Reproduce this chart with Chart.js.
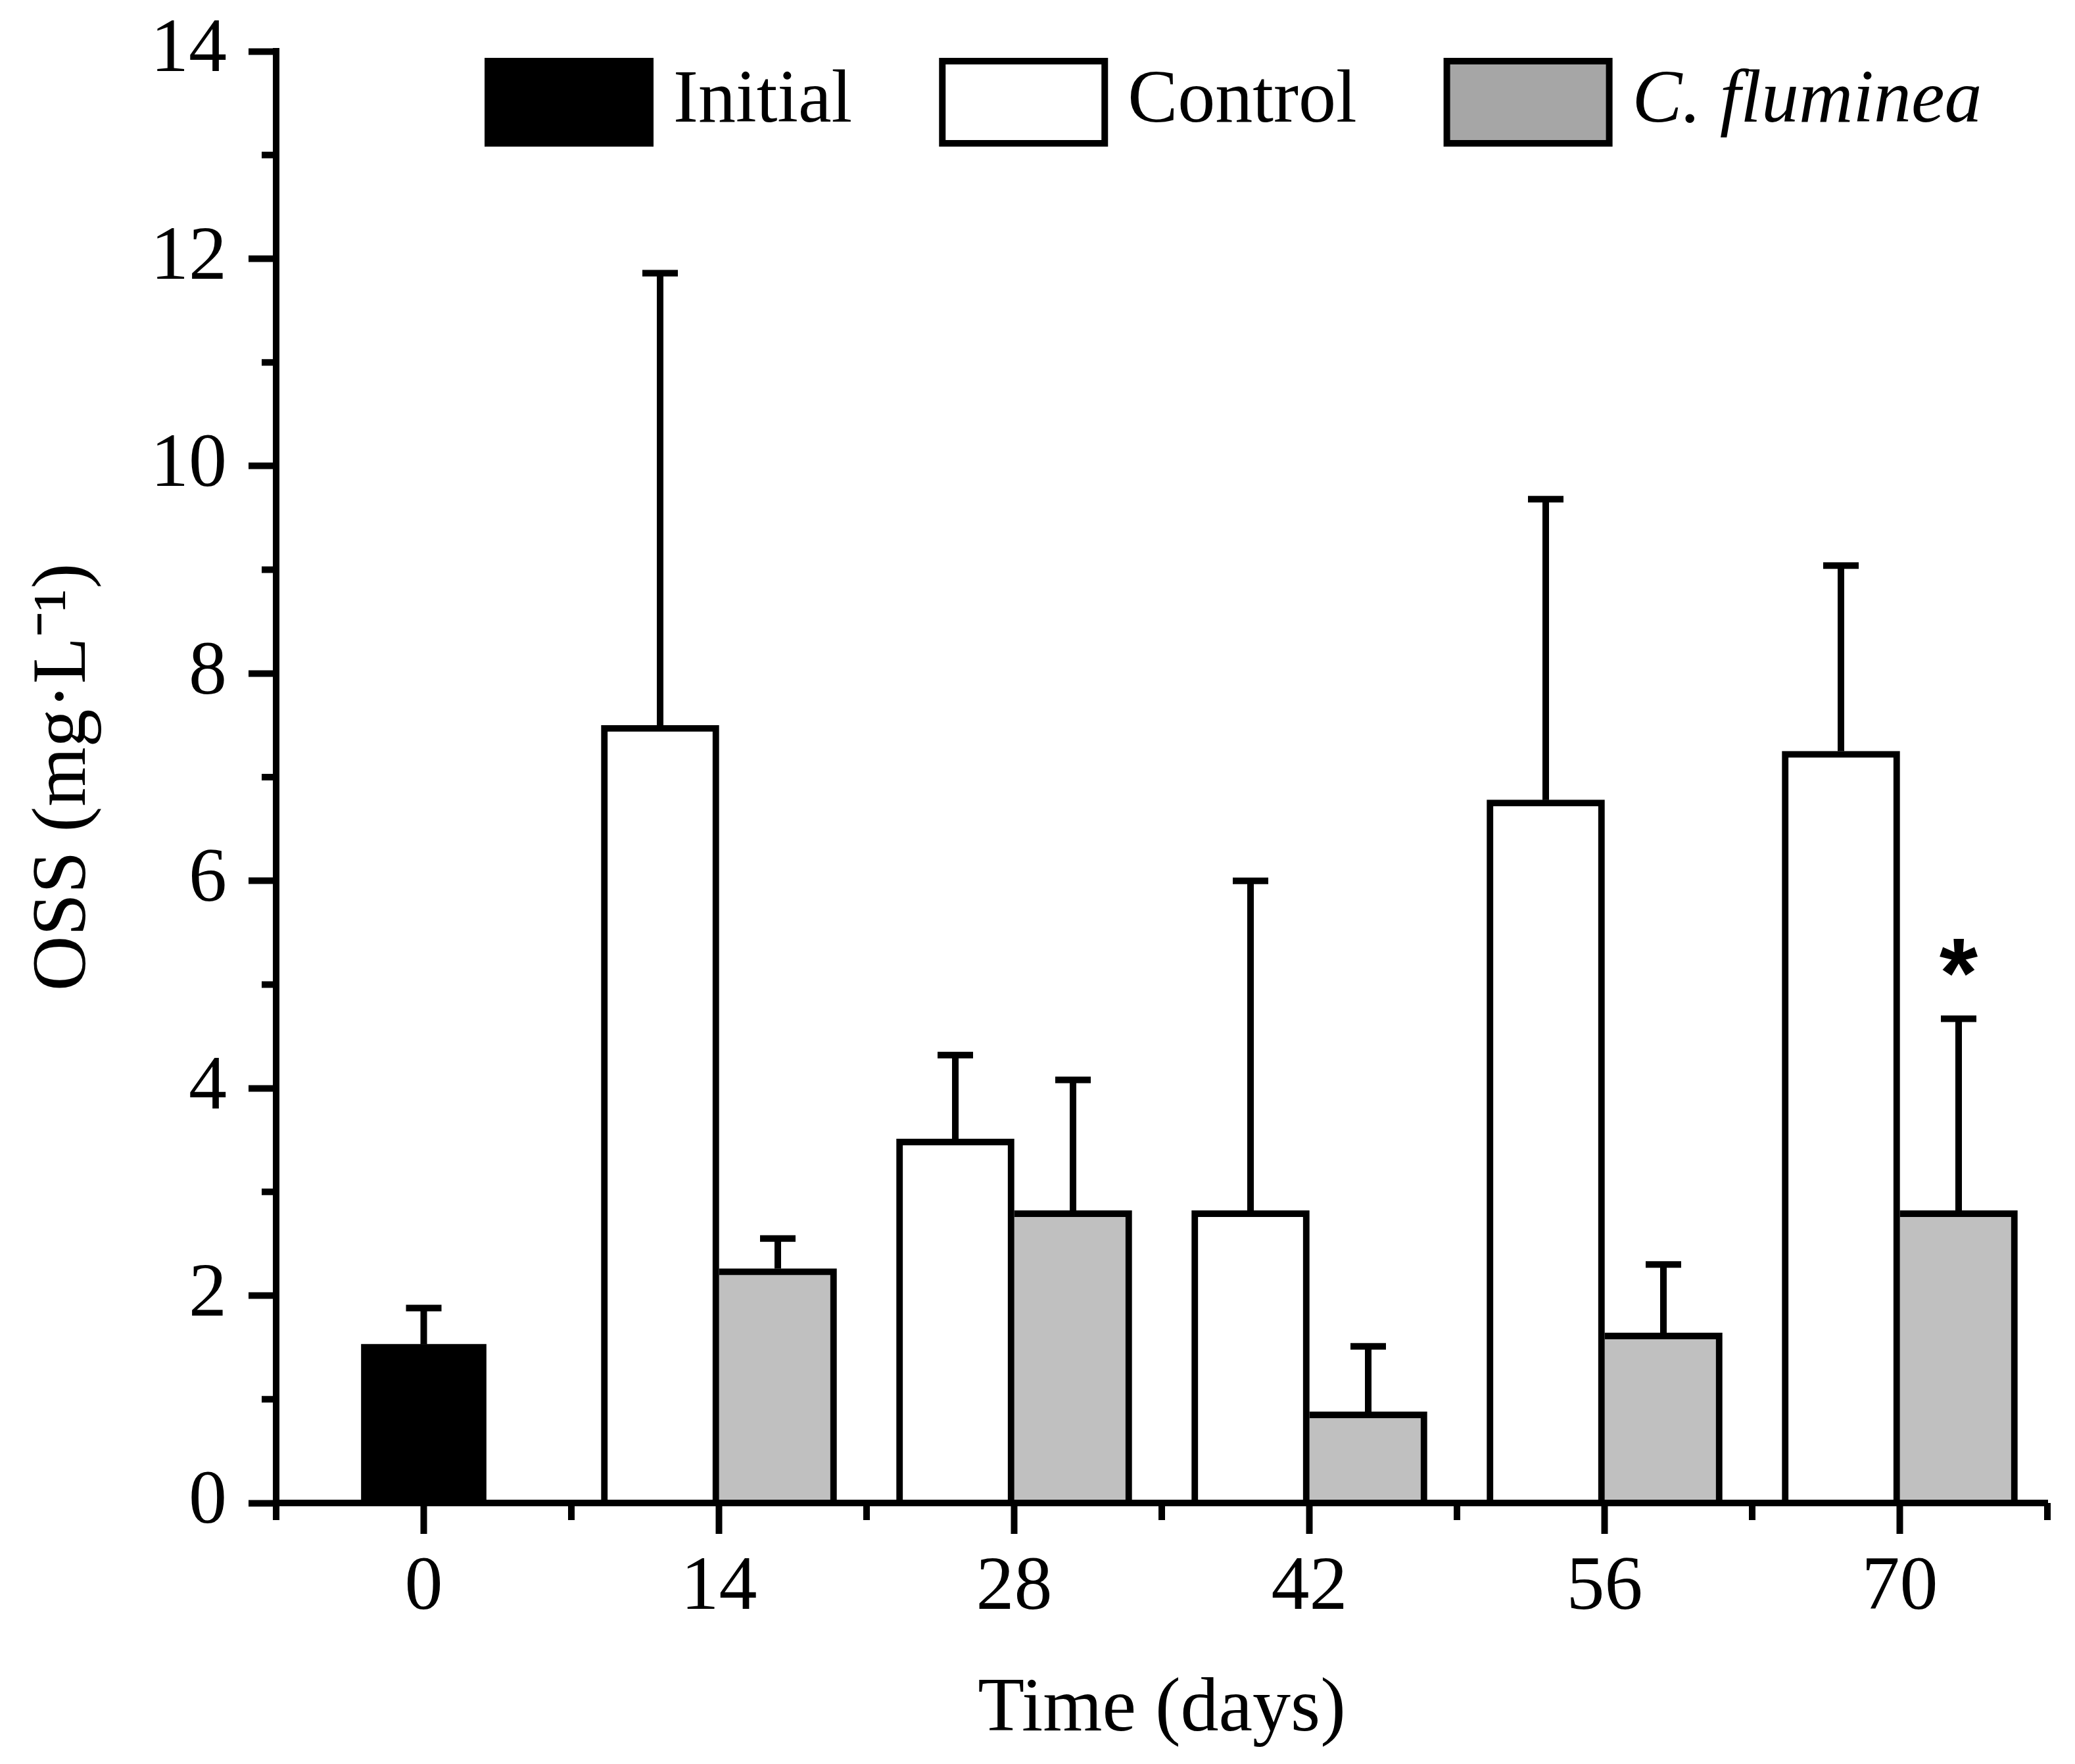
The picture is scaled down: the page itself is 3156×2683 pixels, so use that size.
<!DOCTYPE html>
<html>
<head>
<meta charset="utf-8">
<title>OSS over time</title>
<script src="https://cdn.jsdelivr.net/npm/chart.js@4.4.0/dist/chart.umd.min.js"></script>
<style>
  html, body { margin: 0; padding: 0; background: #fff; }
  canvas { display: block; }
</style>
</head>
<body>
<canvas id="myChart" width="3156" height="2683"></canvas>
<script>
// Sampling days
const days = ['0', '14', '28', '42', '56', '70'];

// Mean OSS (mg/L)
const initialMean  = [1.53, null, null, null, null, null];
const controlMean  = [null, 7.50, 3.51, 2.82, 6.78, 7.25];
const flumineaMean = [null, 2.26, 2.82, 0.88, 1.64, 2.82];

// Upper error bars (SD)
const initialSd  = [0.35, null, null, null, null, null];
const controlSd  = [null, 4.36, 0.81, 3.18, 2.90, 1.79];
const flumineaSd = [null, 0.29, 1.26, 0.63, 0.66, 1.85];

// Significance marks
const flumineaSig = ['', '', '', '', '', '*'];

const serif = "'Liberation Serif', 'Times New Roman', serif";

// Error bars (upper only) with a cap, plus the significance star
const errorBars = {
    id: 'errorBars',
    afterDatasetsDraw(chart) {
        const ctx = chart.ctx;
        const yScale = chart.scales.y;
        ctx.save();
        ctx.strokeStyle = '#000';
        ctx.fillStyle = '#000';
        ctx.lineWidth = 10;
        chart.data.datasets.forEach((ds, di) => {
            const meta = chart.getDatasetMeta(di);
            ds.data.forEach((v, i) => {
                if (v === null || !ds.sd || ds.sd[i] === null) return;
                const bar = meta.data[i];
                const top = yScale.getPixelForValue(v + ds.sd[i]);
                ctx.beginPath();
                ctx.moveTo(bar.x, bar.y);
                ctx.lineTo(bar.x, top);
                ctx.moveTo(bar.x - 27, top);
                ctx.lineTo(bar.x + 27, top);
                ctx.stroke();
                if (ds.sig && ds.sig[i]) {
                    ctx.font = "bold 150px 'Liberation Sans', Arial, sans-serif";
                    ctx.textAlign = 'center';
                    ctx.textBaseline = 'alphabetic';
                    ctx.fillText(ds.sig[i], bar.x, top - 92 + 75);
                }
            });
        });
        ctx.restore();
    }
};

// Minor ticks on both axes
const minorTicks = {
    id: 'minorTicks',
    afterDraw(chart) {
        const ctx = chart.ctx;
        const x = chart.scales.x;
        const y = chart.scales.y;
        const area = chart.chartArea;
        ctx.save();
        ctx.strokeStyle = '#000';
        ctx.lineWidth = 10;
        ctx.beginPath();
        for (let v = 1; v < 14; v += 2) {
            const py = y.getPixelForValue(v);
            ctx.moveTo(area.left - 22, py);
            ctx.lineTo(area.left, py);
        }
        for (let i = 0; i <= days.length; i++) {
            let px;
            if (i === 0) px = area.left;
            else if (i === days.length) px = area.right;
            else px = (x.getPixelForTick(i - 1) + x.getPixelForTick(i)) / 2;
            ctx.moveTo(px, area.bottom);
            ctx.lineTo(px, area.bottom + 26);
        }
        ctx.stroke();
        ctx.restore();
    }
};

// Legend drawn inside the plot with framed boxes
const boxLegend = {
    id: 'boxLegend',
    afterDraw(chart) {
        const ctx = chart.ctx;
        const area = chart.chartArea;
        const bw = 257, bh = 135, lw = 10;
        let x = area.left + 317;
        const top = area.top + 10;
        ctx.save();
        ctx.textBaseline = 'middle';
        ctx.textAlign = 'left';
        chart.data.datasets.forEach(ds => {
            ctx.fillStyle = '#000';
            ctx.fillRect(x, top, bw, bh);
            ctx.fillStyle = ds.legendFill;
            ctx.fillRect(x + lw, top + lw, bw - 2 * lw, bh - 2 * lw);
            ctx.font = (ds.labelItalic ? 'italic ' : '') + '114px ' + serif;
            ctx.fillStyle = '#000';
            ctx.fillText(ds.label, x + bw + 30, top + bh / 2);
            x += bw + 30 + ctx.measureText(ds.label).width + 132;
        });
        ctx.restore();
    }
};

const ctx = document.getElementById('myChart');

new Chart(ctx, {
    type: 'bar',
    data: {
        labels: days,
        datasets: [
            {
                label: 'Initial',
                data: initialMean,
                sd: initialSd,
                backgroundColor: '#000000',
                borderWidth: 0,
                barThickness: 190,
                legendFill: '#000000'
            },
            {
                label: 'Control',
                data: controlMean,
                sd: controlSd,
                backgroundColor: '#ffffff',
                borderColor: '#000000',
                borderWidth: { top: 10, left: 10, right: 10, bottom: 0 },
                barThickness: 179,
                legendFill: '#ffffff'
            },
            {
                label: 'C. fluminea',
                data: flumineaMean,
                sd: flumineaSd,
                sig: flumineaSig,
                backgroundColor: '#c0c0c0',
                borderColor: '#000000',
                borderWidth: { top: 10, left: 0, right: 10, bottom: 0 },
                barThickness: 179,
                legendFill: '#a6a6a6',
                labelItalic: true
            }
        ]
    },
    options: {
        responsive: false,
        animation: false,
        devicePixelRatio: 1,
        skipNull: true,
        layout: {
            padding: { top: 78, right: 42, bottom: 0, left: 0 }
        },
        plugins: {
            legend: { display: false },
            tooltip: { enabled: false }
        },
        scales: {
            x: {
                afterFit(scale) { scale.height = 397; },
                grid: {
                    offset: false,
                    drawOnChartArea: false,
                    drawTicks: true,
                    tickLength: 47,
                    tickWidth: 10,
                    tickColor: '#000'
                },
                border: { display: true, color: '#000', width: 10, z: 1 },
                ticks: {
                    color: '#000',
                    font: { family: serif, size: 116 },
                    padding: 14,
                    maxRotation: 0,
                    autoSkip: false
                },
                title: {
                    display: true,
                    text: 'Time (days)',
                    color: '#000',
                    font: { family: serif, size: 116 },
                    padding: { top: 0, bottom: 12 }
                }
            },
            y: {
                min: 0,
                max: 14,
                afterFit(scale) { scale.width = 420; },
                grid: {
                    drawOnChartArea: false,
                    drawTicks: true,
                    tickLength: 42,
                    tickWidth: 10,
                    tickColor: '#000'
                },
                border: { display: true, color: '#000', width: 10, z: 1 },
                ticks: {
                    stepSize: 2,
                    color: '#000',
                    font: { family: serif, size: 116, lineHeight: 0.3 },
                    padding: 33
                },
                title: {
                    display: true,
                    text: 'OSS (mg\u00B7L\u207B\u00B9)',
                    color: '#000',
                    font: { family: serif, size: 116 },
                    padding: { top: 29, bottom: 0 }
                }
            }
        }
    },
    plugins: [errorBars, minorTicks, boxLegend]
});
</script>
</body>
</html>
